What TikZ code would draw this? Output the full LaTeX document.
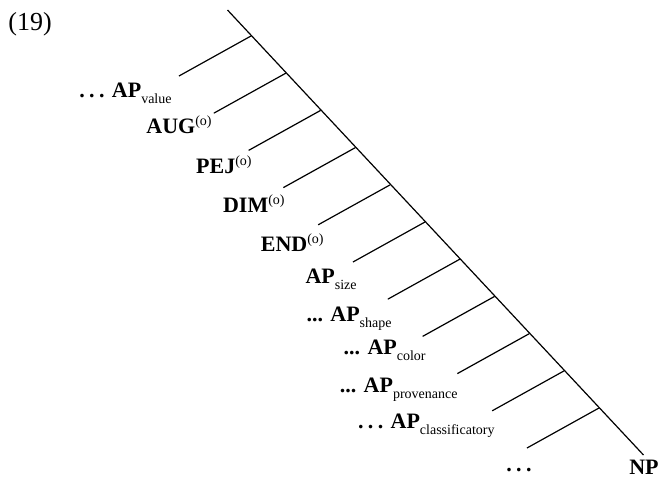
\documentclass[tikz,border=0pt]{standalone}
\usepackage{fontspec}
\setmainfont{Liberation Serif}
\usetikzlibrary{calc}
% lowered and raised small text for category indices
\newcommand{\catsub}[1]{\raisebox{-3.2pt}{\fontsize{7}{8}\selectfont\mdseries #1}}
\newcommand{\catsup}[1]{\raisebox{4pt}{\fontsize{7}{8}\selectfont\mdseries #1}}
% widely spaced ellipsis
\newcommand{\wdots}{.\kern2.2pt.\kern2.2pt.}
\begin{document}
\begin{tikzpicture}[x=0.5pt,y=-0.5pt,
  edge/.style={line width=0.6pt},
  cat/.style={inner sep=0pt,anchor=base east,font=\fontsize{11}{13}\selectfont\bfseries},
  numlabel/.style={inner sep=0pt,anchor=base west,font=\fontsize{13}{15}\selectfont}]
\useasboundingbox (0,0) rectangle (661,477);

% example number
\node[numlabel] (exnum) at (8,30) {(19)};

% right-branching spine
\coordinate (top) at (227.5,10);
\coordinate (bot) at (643.5,455);
\draw[edge] (top) -- (bot);

% junctions on the spine and free ends of the left branches
\foreach \i in {1,...,11}{
  \coordinate (j\i) at ({251+34.8*(\i-1)},{36+37.2*(\i-1)});
  \coordinate (e\i) at ($(j\i)+(-72,40)$);
  \draw[edge] (j\i) -- (e\i);
}

% branch labels
\node[cat] (value) at (172,97) {\wdots{} AP\catsub{value}};
\node[cat] (aug) at (212,133) {AUG\catsup{(o)}};
\node[cat] (pej) at (252,173) {PEJ\catsup{(o)}};
\node[cat] (dim) at (285,212) {DIM\catsup{(o)}};
\node[cat] (end) at (324,251) {END\catsup{(o)}};
\node[cat] (size) at (357,283) {AP\catsub{size}};
\node[cat] (shape) at (392,321) {... AP\catsub{shape}};
\node[cat] (color) at (426,354) {... AP\catsub{color}};
\node[cat] (prov) at (458,392) {... AP\catsub{provenance}};
\node[cat] (class) at (495,428) {\wdots{} AP\catsub{classificatory}};
\node[cat,anchor=base] (rest) at (519,471) {\wdots};
\node[cat,anchor=base] (np) at (644,474) {NP};
\end{tikzpicture}
\end{document}
